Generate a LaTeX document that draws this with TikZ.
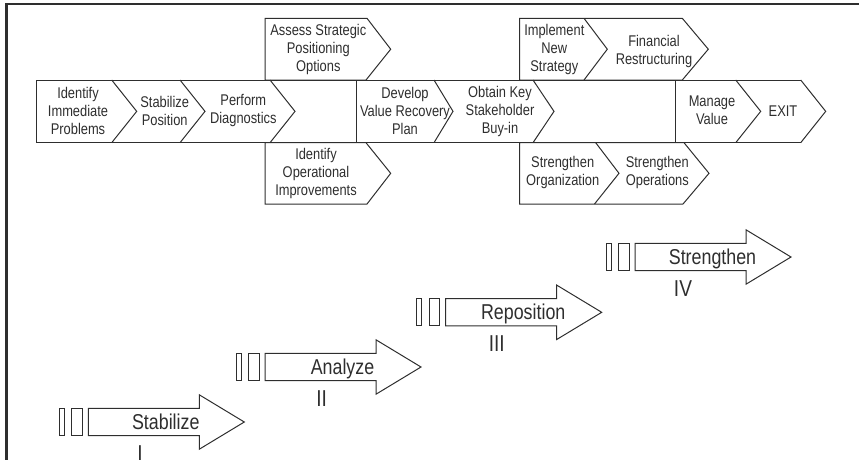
\documentclass[tikz,border=0pt]{standalone}
\usepackage{fontspec}
\setmainfont[FakeStretch=0.83]{Liberation Sans}
\definecolor{ink}{HTML}{2E2E2E}
\begin{document}
\begin{tikzpicture}[x=1pt,y=-1pt,
  outline/.style={draw=ink,line width=1pt,line join=miter},
  frameline/.style={draw=ink,line width=2.2pt},
  chevtext/.style={inner sep=0,align=center,font=\fontsize{15.5}{18}\selectfont,text=ink},
  phasetext/.style={inner sep=0,anchor=base,font=\fontsize{21.5}{24}\selectfont,text=ink},
  numtext/.style={inner sep=0,anchor=base,font=\fontsize{23}{26}\selectfont,text=ink}]
\useasboundingbox (0,0) rectangle (859,459);
% frame (left and top only)
\draw[frameline] (6.5,461) -- (6.5,4) -- (861,4);

% ---------- main band ----------
\draw[outline] (800.7,80) -- (36.7,80) -- (36.7,142.7) -- (800.7,142.7);
\draw[outline] (356.7,80) -- (356.7,142.7);
\draw[outline] (675.7,80) -- (675.7,142.7);
\foreach \t/\d in {111.7/25,180/25,270/25,434/19,533/21,735.7/25,800.7/25}
  \draw[outline] (\t,80) -- (\t+\d,111.35) -- (\t,142.7);

% ---------- upper / lower branches (left) ----------
\draw[outline] (265,80) -- (265,18.3) -- (367,18.3) -- (390.7,49.2) -- (366,80) -- cycle;
\draw[outline] (265,142.7) -- (265,204) -- (367,204) -- (390.7,173.3) -- (366,142.7) -- cycle;

% ---------- upper / lower branches (right) ----------
\draw[outline] (682.3,80) -- (519.7,80) -- (519.7,18.3) -- (682.3,18.3) -- (708.3,49.2) -- cycle;
\draw[outline] (584,18.3) -- (607.3,49.2) -- (584,80);
\draw[outline] (684,142.7) -- (519.7,142.7) -- (519.7,204) -- (683,204) -- (709,173.3) -- cycle;
\draw[outline] (595.7,142.7) -- (619,173.3) -- (594.5,204);

% ---------- chevron texts ----------
\node[chevtext] (t1) at (78,111.3) {Identify\\Immediate\\Problems};
\node[chevtext] (t2) at (164.7,110.5) {Stabilize\\Position};
\node[chevtext] (t3) at (243.3,110.5) {Perform\\Diagnostics};
\node[chevtext] (t4) at (318.3,49.5) {Assess Strategic\\Positioning\\Options};
\node[chevtext] (t5) at (316,173.5) {Identify\\Operational\\Improvements};
\node[chevtext] (t6) at (405,111.3) {Develop\\Value Recovery\\Plan};
\node[chevtext] (t7) at (500,111.3) {Obtain Key\\Stakeholder\\Buy-in};
\node[chevtext] (t8) at (712,110.5) {Manage\\Value};
\node[chevtext] (t9) at (783,111.3) {EXIT};
\node[chevtext] (t10) at (554.3,49.5) {Implement\\New\\Strategy};
\node[chevtext] (t11) at (654,51) {Financial\\Restructuring};
\node[chevtext] (t12) at (562.7,172.5) {Strengthen\\Organization};
\node[chevtext] (t13) at (657.3,172.5) {Strengthen\\Operations};

% ---------- phase arrows ----------
\foreach \bx/\my/\lbl/\num/\nx/\i in {88.3/422/Stabilize/I/51.7/1,
                                       265/367/Analyze/II/56.7/2,
                                       445.7/312.3/Reposition/III/51/3,
                                       635/257/Strengthen/IV/48/4}{
  \begin{scope}[shift={(\bx,\my)}]
    \draw[outline] (-29,-13.6) rectangle (-23.8,13.6);
    \draw[outline] (-16.7,-13.6) rectangle (-5.8,13.6);
    \draw[outline] (0,-13.6) -- (111,-13.6) -- (111,-27.2) -- (156,0)
                   -- (111,27.2) -- (111,13.6) -- (0,13.6) -- cycle;
    \node[phasetext] (phase\i) at (77.5,7) {\lbl};
    \node[numtext] (num\i) at (\nx,39) {\num};
  \end{scope}
}
\end{tikzpicture}
\end{document}
